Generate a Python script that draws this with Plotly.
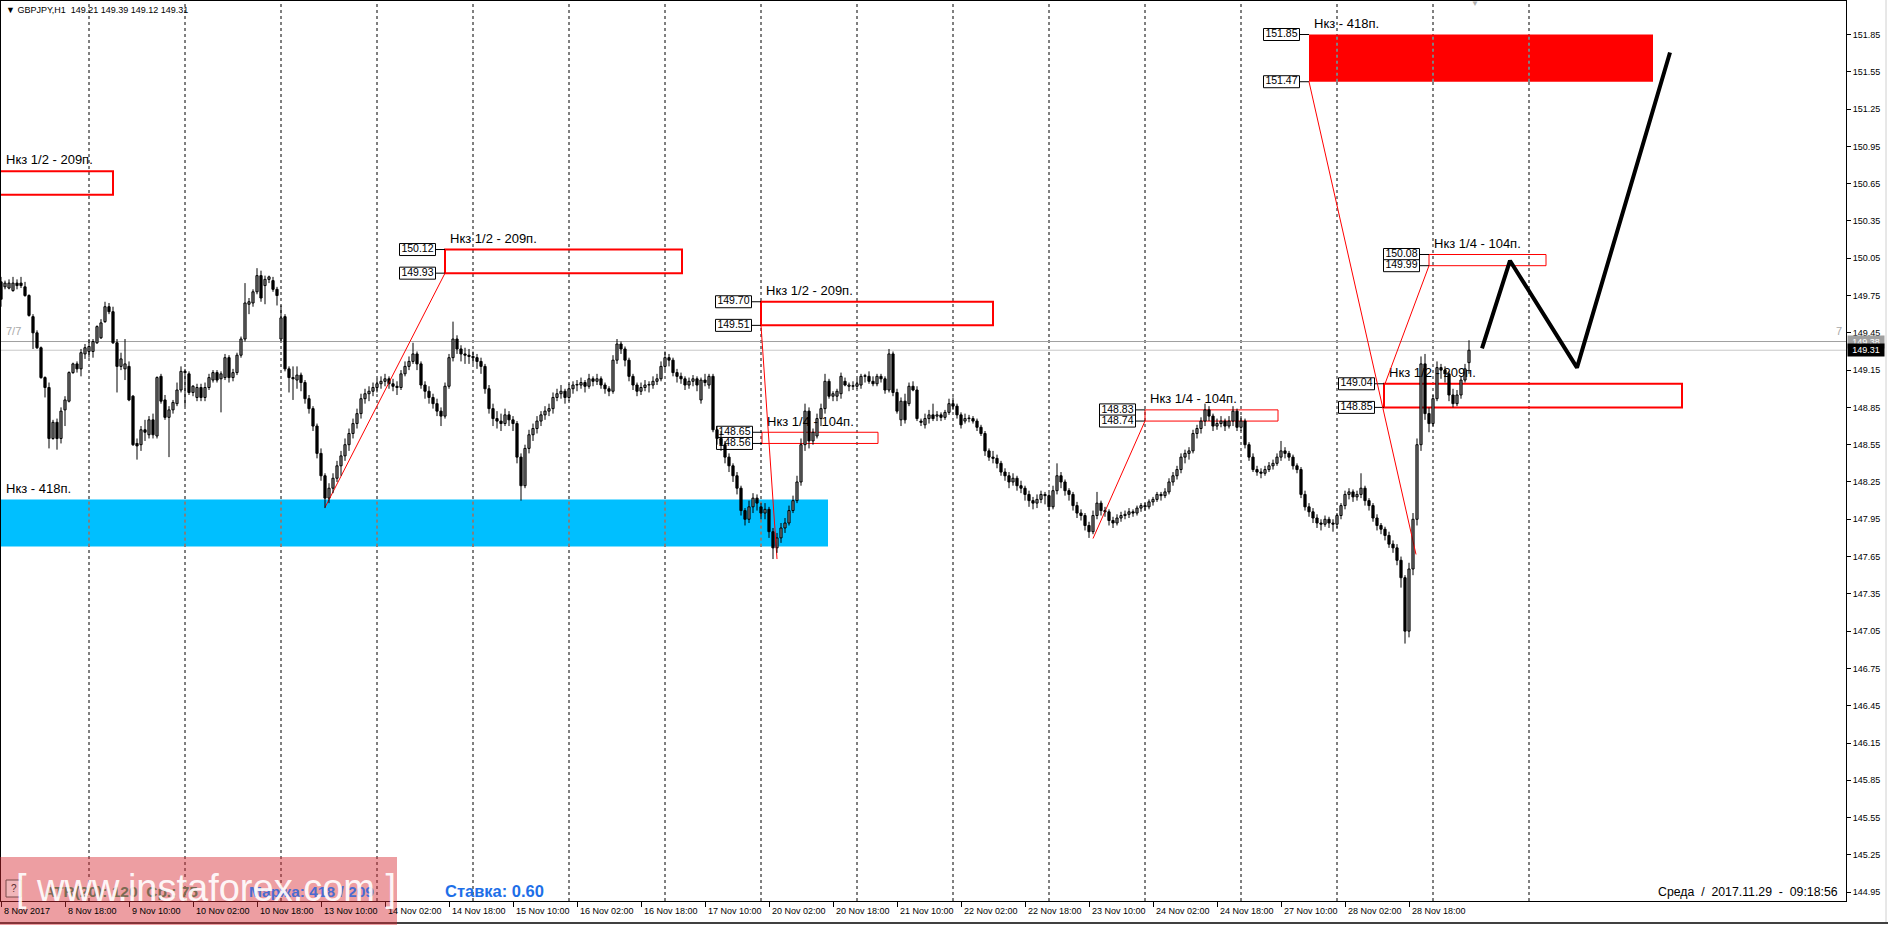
import plotly.graph_objects as go

# ---------------- candle data (open, high, low, close), hourly bars, grouped by trading day ----------------
nov08 = [  # 02:00 .. 23:00
    (149.86, 149.90, 149.66, 149.72), (149.82, 149.87, 149.80, 149.85), (149.81, 149.88, 149.80, 149.85),
    (149.79, 149.90, 149.78, 149.85), (149.85, 149.88, 149.80, 149.83), (149.85, 149.90, 149.81, 149.83),
    (149.82, 149.86, 149.74, 149.75), (149.75, 149.76, 149.58, 149.59), (149.58, 149.60, 149.32, 149.45),
    (149.45, 149.47, 149.32, 149.33), (149.33, 149.34, 149.08, 149.09), (149.09, 149.10, 148.93, 149.01),
    (149.01, 149.05, 148.52, 148.60), (148.60, 148.75, 148.59, 148.73), (148.73, 148.76, 148.51, 148.60),
    (148.60, 148.85, 148.56, 148.82), (148.83, 148.94, 148.70, 148.91), (148.90, 149.14, 148.89, 149.13),
    (149.13, 149.21, 149.12, 149.20), (149.20, 149.22, 149.13, 149.16), (149.16, 149.32, 149.10, 149.29),
    (149.28, 149.36, 149.24, 149.33)]
nov09 = [
    (149.30, 149.40, 149.25, 149.34), (149.30, 149.40, 149.25, 149.38), (149.37, 149.51, 149.36, 149.50),
    (149.41, 149.56, 149.40, 149.53), (149.54, 149.70, 149.53, 149.66), (149.66, 149.69, 149.60, 149.62),
    (149.62, 149.66, 149.36, 149.37), (149.37, 149.40, 148.97, 149.18), (149.18, 149.29, 149.15, 149.24),
    (149.16, 149.40, 149.07, 149.20), (149.18, 149.22, 148.90, 148.91), (148.94, 148.95, 148.54, 148.55),
    (148.56, 148.60, 148.43, 148.54), (148.55, 148.70, 148.50, 148.67), (148.67, 148.75, 148.58, 148.65),
    (148.63, 148.78, 148.60, 148.75), (148.75, 148.80, 148.60, 148.63), (148.62, 149.10, 148.60, 149.09),
    (149.10, 149.12, 148.88, 148.90), (148.91, 148.95, 148.75, 148.77), (148.77, 148.86, 148.45, 148.83),
    (148.83, 148.91, 148.80, 148.89), (148.88, 149.05, 148.86, 148.99), (148.99, 149.18, 148.97, 149.14)]
nov10 = [
    (149.14, 149.16, 148.86, 149.13), (149.12, 149.14, 148.95, 148.97), (148.97, 149.03, 148.94, 149.02),
    (148.93, 149.04, 148.90, 149.01), (149.01, 149.04, 148.90, 148.93), (148.93, 149.05, 148.90, 149.01),
    (149.01, 149.12, 148.99, 149.09), (149.07, 149.15, 149.05, 149.13), (149.13, 149.15, 149.05, 149.07),
    (149.08, 149.14, 148.81, 149.12), (149.09, 149.28, 149.07, 149.25), (149.25, 149.27, 149.05, 149.09),
    (149.09, 149.16, 149.06, 149.13), (149.13, 149.29, 149.11, 149.27), (149.27, 149.42, 149.25, 149.40),
    (149.40, 149.85, 149.38, 149.69), (149.68, 149.73, 149.60, 149.70), (149.69, 149.80, 149.66, 149.78),
    (149.78, 149.97, 149.76, 149.91), (149.91, 149.95, 149.70, 149.73), (149.83, 149.91, 149.68, 149.88),
    (149.88, 149.91, 149.85, 149.90), (149.87, 149.90, 149.78, 149.80), (149.80, 149.82, 149.67, 149.75)]
nov13 = [
    (149.40, 149.67, 149.38, 149.57), (149.58, 149.60, 149.14, 149.16), (149.16, 149.18, 148.97, 149.09),
    (149.09, 149.18, 148.91, 149.08), (149.07, 149.18, 149.00, 149.11), (149.11, 149.13, 148.98, 149.05),
    (149.05, 149.07, 148.88, 148.92), (148.92, 148.95, 148.80, 148.84), (148.84, 148.86, 148.66, 148.70),
    (148.70, 148.72, 148.44, 148.48), (148.48, 148.52, 148.26, 148.30), (148.30, 148.32, 148.04, 148.12),
    (148.12, 148.24, 148.08, 148.20), (148.20, 148.32, 148.16, 148.28), (148.28, 148.42, 148.25, 148.38),
    (148.38, 148.50, 148.30, 148.46), (148.46, 148.60, 148.42, 148.55), (148.55, 148.68, 148.50, 148.64),
    (148.64, 148.76, 148.60, 148.72), (148.72, 148.84, 148.68, 148.80), (148.80, 148.96, 148.76, 148.92),
    (148.92, 149.00, 148.88, 148.96), (148.96, 149.02, 148.90, 148.98), (148.98, 149.05, 148.94, 149.01)]
nov14 = [
    (149.01, 149.08, 148.97, 149.04), (149.04, 149.10, 149.00, 149.06), (149.06, 149.12, 149.02, 149.08),
    (149.08, 149.10, 149.00, 149.04), (149.04, 149.08, 148.98, 149.02), (149.02, 149.06, 148.95, 149.01),
    (149.01, 149.15, 148.99, 149.12), (149.12, 149.22, 149.10, 149.18), (149.18, 149.26, 149.15, 149.22),
    (149.22, 149.37, 149.20, 149.28), (149.28, 149.30, 149.15, 149.20), (149.20, 149.22, 149.00, 149.03),
    (149.03, 149.06, 148.92, 148.98), (148.98, 149.02, 148.88, 148.93), (148.93, 148.96, 148.84, 148.88),
    (148.88, 148.92, 148.78, 148.82), (148.82, 148.85, 148.70, 148.78), (148.78, 149.05, 148.76, 149.02),
    (149.02, 149.28, 149.00, 149.25), (149.25, 149.54, 149.22, 149.40), (149.40, 149.43, 149.28, 149.32),
    (149.32, 149.35, 149.22, 149.28), (149.28, 149.33, 149.20, 149.27), (149.27, 149.32, 149.20, 149.26)]
nov15 = [
    (149.26, 149.30, 149.20, 149.25), (149.25, 149.28, 149.16, 149.22), (149.22, 149.25, 149.12, 149.18),
    (149.18, 149.20, 148.96, 149.00), (149.00, 149.03, 148.80, 148.84), (148.84, 148.88, 148.70, 148.76),
    (148.76, 148.82, 148.68, 148.74), (148.74, 148.80, 148.66, 148.72), (148.72, 148.84, 148.70, 148.79),
    (148.79, 148.82, 148.70, 148.75), (148.75, 148.78, 148.66, 148.72), (148.72, 148.74, 148.40, 148.45),
    (148.45, 148.48, 148.10, 148.22), (148.22, 148.55, 148.20, 148.52), (148.52, 148.67, 148.48, 148.63),
    (148.63, 148.72, 148.58, 148.68), (148.68, 148.78, 148.64, 148.74), (148.74, 148.82, 148.70, 148.79),
    (148.79, 148.86, 148.75, 148.82), (148.82, 148.88, 148.78, 148.84), (148.84, 148.97, 148.80, 148.93),
    (148.93, 149.00, 148.90, 148.96), (148.96, 149.03, 148.92, 148.98), (148.98, 149.00, 148.88, 148.93)]
nov16 = [
    (148.93, 149.04, 148.90, 149.00), (149.00, 149.06, 148.96, 149.03), (149.03, 149.07, 148.98, 149.03),
    (149.03, 149.09, 149.00, 149.05), (149.05, 149.07, 148.97, 149.02), (149.02, 149.12, 149.00, 149.08),
    (149.08, 149.10, 149.02, 149.06), (149.06, 149.12, 149.03, 149.08), (149.08, 149.10, 149.00, 149.03),
    (149.03, 149.05, 148.96, 149.00), (149.00, 149.02, 148.94, 148.98), (148.98, 149.27, 148.96, 149.23),
    (149.23, 149.40, 149.20, 149.36), (149.36, 149.38, 149.28, 149.32), (149.32, 149.34, 149.18, 149.23),
    (149.23, 149.25, 149.06, 149.10), (149.10, 149.12, 148.99, 149.03), (149.03, 149.05, 148.94, 148.98),
    (148.98, 149.05, 148.95, 149.01), (149.01, 149.07, 148.98, 149.03), (149.03, 149.06, 148.97, 149.03),
    (149.03, 149.10, 149.00, 149.06), (149.06, 149.12, 149.03, 149.08), (149.08, 149.22, 149.06, 149.18)]
nov17 = [
    (149.18, 149.30, 149.15, 149.25), (149.25, 149.28, 149.18, 149.23), (149.23, 149.25, 149.10, 149.13),
    (149.13, 149.16, 149.05, 149.10), (149.10, 149.13, 149.04, 149.08), (149.08, 149.10, 148.99, 149.03),
    (149.03, 149.09, 149.00, 149.06), (149.06, 149.11, 149.02, 149.08), (149.08, 149.10, 148.98, 149.03),
    (148.91, 149.09, 148.88, 149.07), (149.07, 149.12, 149.02, 149.05), (149.03, 149.12, 149.00, 149.10),
    (149.10, 149.12, 148.65, 148.67), (148.67, 148.70, 148.55, 148.60), (148.60, 148.66, 148.50, 148.55),
    (148.55, 148.58, 148.40, 148.45), (148.45, 148.48, 148.33, 148.38), (148.38, 148.40, 148.25, 148.30),
    (148.30, 148.33, 148.15, 148.20), (148.20, 148.22, 147.98, 148.02), (148.02, 148.04, 147.90, 147.95),
    (147.95, 148.10, 147.92, 148.05), (148.05, 148.16, 148.00, 148.12), (148.12, 148.15, 148.02, 148.08)]
nov20 = [
    (148.05, 148.08, 147.95, 148.00), (148.00, 148.08, 147.95, 148.03), (148.03, 148.05, 147.80, 147.85),
    (147.85, 147.88, 147.63, 147.72), (147.72, 147.84, 147.68, 147.80), (147.80, 147.92, 147.76, 147.88),
    (147.88, 147.96, 147.84, 147.92), (147.92, 148.06, 147.90, 148.02), (148.02, 148.14, 148.00, 148.10),
    (148.10, 148.30, 148.08, 148.25), (148.25, 148.60, 148.22, 148.55), (148.55, 148.88, 148.50, 148.82),
    (148.82, 148.85, 148.52, 148.58), (148.58, 148.68, 148.55, 148.65), (148.62, 148.80, 148.60, 148.76),
    (148.76, 148.88, 148.70, 148.84), (148.84, 149.12, 148.80, 149.06), (149.06, 149.08, 148.92, 148.94),
    (148.94, 148.98, 148.90, 148.96), (148.94, 149.00, 148.90, 148.98), (148.96, 149.13, 148.92, 149.10),
    (149.06, 149.09, 149.02, 149.03), (149.02, 149.05, 148.98, 149.03), (149.02, 149.06, 148.99, 149.02)]
nov21 = [
    (149.02, 149.08, 149.00, 149.04), (149.03, 149.12, 149.00, 149.10), (149.10, 149.12, 149.05, 149.10),
    (149.10, 149.14, 149.04, 149.06), (149.06, 149.10, 149.02, 149.04), (149.04, 149.12, 149.02, 149.10),
    (149.10, 149.12, 149.05, 149.08), (149.08, 149.10, 148.96, 148.99), (148.99, 149.32, 148.97, 149.28),
    (149.28, 149.30, 148.94, 148.97), (148.97, 149.00, 148.80, 148.82), (148.75, 148.93, 148.70, 148.90),
    (148.90, 148.96, 148.72, 148.75), (148.88, 149.05, 148.86, 149.02), (149.02, 149.06, 148.98, 148.99),
    (148.99, 149.02, 148.74, 148.76), (148.74, 148.76, 148.70, 148.73), (148.71, 148.80, 148.68, 148.76),
    (148.76, 148.83, 148.72, 148.79), (148.79, 148.88, 148.74, 148.76), (148.78, 148.82, 148.74, 148.79),
    (148.79, 148.81, 148.74, 148.77), (148.77, 148.83, 148.75, 148.81), (148.81, 148.92, 148.79, 148.88)]
nov22 = [
    (148.88, 148.93, 148.83, 148.86), (148.86, 148.88, 148.76, 148.79), (148.79, 148.81, 148.68, 148.71),
    (148.74, 148.80, 148.72, 148.76), (148.76, 148.79, 148.73, 148.76), (148.76, 148.78, 148.72, 148.74),
    (148.74, 148.76, 148.66, 148.69), (148.69, 148.71, 148.62, 148.64), (148.64, 148.66, 148.46, 148.50),
    (148.50, 148.52, 148.42, 148.45), (148.45, 148.50, 148.40, 148.44), (148.44, 148.47, 148.36, 148.40),
    (148.40, 148.42, 148.30, 148.33), (148.33, 148.36, 148.26, 148.30), (148.30, 148.33, 148.20, 148.25),
    (148.25, 148.32, 148.22, 148.28), (148.28, 148.30, 148.18, 148.22), (148.22, 148.26, 148.16, 148.20),
    (148.20, 148.22, 148.10, 148.15), (148.15, 148.18, 148.05, 148.10), (148.10, 148.13, 148.03, 148.08),
    (148.08, 148.15, 148.04, 148.11), (148.11, 148.18, 148.08, 148.15), (148.15, 148.17, 148.07, 148.14)]
nov23 = [
    (148.14, 148.16, 148.02, 148.05), (148.05, 148.22, 148.03, 148.18), (148.18, 148.40, 148.15, 148.30),
    (148.30, 148.33, 148.20, 148.25), (148.25, 148.27, 148.14, 148.18), (148.18, 148.20, 148.10, 148.15),
    (148.15, 148.17, 148.02, 148.06), (148.06, 148.09, 147.96, 148.00), (148.00, 148.03, 147.94, 147.98),
    (147.98, 148.00, 147.86, 147.90), (147.90, 147.93, 147.80, 147.85), (147.85, 148.02, 147.83, 147.98),
    (147.98, 148.17, 147.95, 148.08), (148.08, 148.10, 147.98, 148.02), (148.02, 148.05, 147.97, 148.01),
    (148.01, 148.03, 147.90, 147.94), (147.94, 147.97, 147.88, 147.92), (147.92, 147.99, 147.90, 147.96),
    (147.96, 148.01, 147.93, 147.98), (147.98, 148.02, 147.95, 147.99), (147.99, 148.04, 147.96, 148.01),
    (148.01, 148.03, 147.97, 148.00), (148.00, 148.06, 147.98, 148.04), (148.04, 148.08, 148.01, 148.06)]
nov24 = [
    (148.06, 148.08, 148.02, 148.05), (148.05, 148.11, 148.03, 148.09), (148.09, 148.13, 148.06, 148.11),
    (148.11, 148.17, 148.09, 148.15), (148.15, 148.17, 148.10, 148.14), (148.14, 148.20, 148.12, 148.17),
    (148.17, 148.28, 148.15, 148.25), (148.25, 148.33, 148.22, 148.30), (148.30, 148.38, 148.27, 148.35),
    (148.35, 148.48, 148.32, 148.45), (148.45, 148.51, 148.40, 148.48), (148.48, 148.53, 148.43, 148.50),
    (148.50, 148.67, 148.48, 148.64), (148.64, 148.71, 148.60, 148.68), (148.68, 148.77, 148.64, 148.74),
    (148.74, 148.88, 148.70, 148.83), (148.83, 148.86, 148.74, 148.78), (148.78, 148.80, 148.66, 148.70),
    (148.70, 148.76, 148.67, 148.72), (148.72, 148.78, 148.69, 148.74), (148.74, 148.76, 148.66, 148.70),
    (148.70, 148.78, 148.68, 148.74), (148.74, 148.86, 148.70, 148.82), (148.82, 148.84, 148.66, 148.69)]
nov27 = [
    (148.69, 148.78, 148.66, 148.74), (148.74, 148.76, 148.52, 148.55), (148.55, 148.57, 148.42, 148.45),
    (148.45, 148.48, 148.33, 148.35), (148.35, 148.38, 148.30, 148.33), (148.33, 148.36, 148.28, 148.32),
    (148.32, 148.38, 148.30, 148.35), (148.35, 148.41, 148.33, 148.38), (148.38, 148.43, 148.35, 148.40),
    (148.40, 148.48, 148.38, 148.45), (148.45, 148.58, 148.42, 148.50), (148.50, 148.53, 148.44, 148.48),
    (148.48, 148.50, 148.42, 148.45), (148.45, 148.47, 148.35, 148.38), (148.38, 148.40, 148.32, 148.35),
    (148.35, 148.37, 148.12, 148.15), (148.15, 148.18, 148.02, 148.05), (148.05, 148.08, 147.97, 148.01),
    (148.01, 148.04, 147.92, 147.96), (147.96, 147.99, 147.88, 147.92), (147.92, 147.95, 147.86, 147.91),
    (147.91, 147.98, 147.89, 147.95), (147.95, 147.97, 147.88, 147.92), (147.92, 147.95, 147.85, 147.91)]
nov28 = [
    (147.91, 148.00, 147.88, 147.98), (147.98, 148.08, 147.95, 148.06), (148.06, 148.18, 148.03, 148.15),
    (148.15, 148.20, 148.11, 148.17), (148.17, 148.19, 148.09, 148.13), (148.13, 148.18, 148.10, 148.15),
    (148.15, 148.32, 148.12, 148.20), (148.20, 148.22, 148.06, 148.10), (148.10, 148.12, 148.02, 148.06),
    (148.06, 148.08, 147.93, 147.96), (147.96, 147.99, 147.86, 147.90), (147.90, 147.92, 147.83, 147.87),
    (147.87, 147.89, 147.78, 147.82), (147.82, 147.85, 147.72, 147.75), (147.75, 147.78, 147.68, 147.72),
    (147.72, 147.75, 147.58, 147.62), (147.62, 147.65, 147.40, 147.48), (147.48, 147.50, 146.95, 147.05),
    (147.05, 147.60, 147.00, 147.55), (147.55, 148.00, 147.50, 147.95), (147.95, 148.60, 147.90, 148.55),
    (148.55, 149.26, 148.50, 149.20), (149.20, 149.28, 148.75, 148.80), (148.80, 148.85, 148.65, 148.72)]
nov29 = [  # 00:00 .. 09:00
    (148.72, 148.95, 148.70, 148.92), (148.92, 149.22, 148.90, 149.17), (149.17, 149.20, 149.08, 149.15),
    (149.15, 149.18, 149.05, 149.12), (149.12, 149.14, 148.90, 148.95), (148.95, 149.00, 148.85, 148.88),
    (148.88, 148.99, 148.86, 148.95), (148.95, 149.10, 148.92, 149.07), (149.07, 149.20, 149.05, 149.16),
    (149.21, 149.39, 149.12, 149.31)]

trading_days = [nov08, nov09, nov10, nov13, nov14, nov15, nov16, nov17,
                nov20, nov21, nov22, nov23, nov24, nov27, nov28, nov29]
first_bar = -22  # 8 Nov 02:00, counted in bars from 9 Nov 00:00

time_tick_bars = [-22, -6, 10, 26, 42, 58, 74, 90, 106, 122, 138, 154,
                  170, 186, 202, 218, 234, 250, 266, 282, 298, 314, 330]
time_tick_text = ["8 Nov 2017", "8 Nov 18:00", "9 Nov 10:00", "10 Nov 02:00", "10 Nov 18:00",
                  "13 Nov 10:00", "14 Nov 02:00", "14 Nov 18:00", "15 Nov 10:00", "16 Nov 02:00",
                  "16 Nov 18:00", "17 Nov 10:00", "20 Nov 02:00", "20 Nov 18:00", "21 Nov 10:00",
                  "22 Nov 02:00", "22 Nov 18:00", "23 Nov 10:00", "24 Nov 02:00", "24 Nov 18:00",
                  "27 Nov 10:00", "28 Nov 02:00", "28 Nov 18:00"]
price_tick_values = [151.85, 151.55, 151.25, 150.95, 150.65, 150.35, 150.05, 149.75, 149.45, 149.15,
                     148.85, 148.55, 148.25, 147.95, 147.65, 147.35, 147.05, 146.75, 146.45, 146.15,
                     145.85, 145.55, 145.25, 144.95]

# target zones (bar index start/end, low/high price)
zone_start = [-30, -30, 89, 168, 168.25, 264, 305, 323.75, 335]
zone_end = [6, 184.75, 148.25, 226, 197.25, 297.25, 391, 398.25, 364.25]
zone_low = [150.56, 147.73, 149.93, 149.51, 148.56, 148.74, 151.47, 148.85, 149.99]
zone_high = [150.75, 148.11, 150.12, 149.70, 148.65, 148.83, 151.85, 149.04, 150.08]
zone_label = ["Нкз 1/2 - 209п.", "Нкз - 418п.", "Нкз 1/2 - 209п.", "Нкз 1/2 - 209п.", "Нкз 1/4 - 104п.",
              "Нкз 1/4 - 104п.", "Нкз - 418п.", "Нкз 1/2 - 209п.", "Нкз 1/4 - 104п."]
zone_kind = ["half", "buy", "half", "half", "quarter", "quarter", "sell", "half", "quarter"]
zone_price_tags = [False, False, True, True, True, True, True, True, True]

# red trend lines (bar, price) -> (bar, price)
trend_from_bar = [59, 168, 251, 305, 324]
trend_from_price = [148.045, 149.51, 147.795, 151.47, 149.04]
trend_to_bar = [89, 172, 264, 331.75, 335]
trend_to_price = [149.93, 147.63, 148.74, 147.667, 149.99]

# forecast path (thick black line)
forecast_bar = [348.25, 355.25, 372, 395.25]
forecast_price = [149.324, 150.03, 149.17, 151.705]

bid_price = 149.31
ask_price = 149.38
header_text = "GBPJPY,H1\u00a0\u00a0149.21 149.39 149.12 149.31"
clock_text = "Среда\u00a0\u00a0/\u00a0\u00a02017.11.29\u00a0\u00a0-\u00a0\u00a009:18:56"

# ---------------- flatten candles ----------------
bars, opens, highs, lows, closes = [], [], [], [], []
k = first_bar
for day in trading_days:
    for o, h, l, c in day:
        bars.append(k); opens.append(o); highs.append(h); lows.append(l); closes.append(c)
        k += 1

# ---------------- pixel calibration ----------------
W, H = 1888, 925
PLOT_L, PLOT_R, PLOT_T, PLOT_B = 1, 1846, 1, 901
BAR0_PX, PX_PER_BAR = 89.0, 4.0
P_REF, P_REF_PX, PX_PER_PRICE = 151.85, 34.5, 124.3


def bar_at(px):
    return (px - BAR0_PX) / PX_PER_BAR


def price_at(py):
    return P_REF - (py - P_REF_PX) / PX_PER_PRICE


def dbar(px):
    return px / PX_PER_BAR


def dprice(px):
    return px / PX_PER_PRICE


def paper_x(px):
    return (px - PLOT_L) / (PLOT_R - PLOT_L)


def paper_y(py):
    return (PLOT_B - py) / (PLOT_B - PLOT_T)


FONT = "Liberation Sans"
XMIN, XMAX = bar_at(PLOT_L), bar_at(PLOT_R)

fig = go.Figure()
shapes = []

# day separators (black dashed)
sep_bars = [24 * d for d in range(len(trading_days))]
for sb in sep_bars:
    shapes.append(dict(type="line", xref="x", yref="paper", x0=sb, x1=sb, y0=0, y1=1,
                       line=dict(color="black", width=1, dash="3px,3px"), layer="below"))

# filled zones + XOR-like separator colour on them
for x0, x1, lo, hi, kind in zip(zone_start, zone_end, zone_low, zone_high, zone_kind):
    if kind in ("buy", "sell"):
        fill = "#00BFFF" if kind == "buy" else "#FF0000"
        xor = "#FF4000" if kind == "buy" else "#00FFFF"
        shapes.append(dict(type="rect", xref="x", yref="y", x0=x0, x1=x1, y0=lo, y1=hi,
                           fillcolor=fill, line=dict(width=0), layer="below"))
        for sb in sep_bars:
            if x0 < sb < x1:
                shapes.append(dict(type="line", xref="x", yref="y", x0=sb, x1=sb, y0=lo, y1=hi,
                                   line=dict(color=xor, width=1, dash="3px,3px"), layer="below"))

# outlined zones
for x0, x1, lo, hi, kind in zip(zone_start, zone_end, zone_low, zone_high, zone_kind):
    if kind in ("half", "quarter"):
        shapes.append(dict(type="rect", xref="x", yref="y", x0=x0, x1=x1, y0=lo, y1=hi,
                           line=dict(color="#FF0000", width=2 if kind == "half" else 1), layer="below"))

# bid / ask lines
shapes.append(dict(type="line", xref="paper", yref="y", x0=0, x1=1, y0=ask_price, y1=ask_price,
                   line=dict(color="#A0A0A0", width=1), layer="below"))
shapes.append(dict(type="line", xref="paper", yref="y", x0=0, x1=1, y0=bid_price, y1=bid_price,
                   line=dict(color="#C8C8C8", width=1), layer="below"))

# price tags (boxes with values) at zone corners
tag_gap, tag_w, tag_h = 9.5, 36, 12
tag_x, tag_y, tag_t = [], [], []
for x0, lo, hi, tagged in zip(zone_start, zone_low, zone_high, zone_price_tags):
    if not tagged:
        continue
    right = x0 - dbar(tag_gap)
    for p in (hi, lo):
        shapes.append(dict(type="line", xref="x", yref="y", x0=right, x1=x0, y0=p, y1=p,
                           line=dict(color="black", width=1), layer="below"))
        shapes.append(dict(type="rect", xref="x", yref="y", x0=right - dbar(tag_w), x1=right,
                           y0=p - dprice(tag_h / 2), y1=p + dprice(tag_h / 2),
                           fillcolor="white", line=dict(color="black", width=1), layer="below"))
        tag_x.append(right - dbar(tag_w / 2)); tag_y.append(p); tag_t.append(f"{p:.2f}")

# window frame pieces outside the plot
shapes.append(dict(type="line", xref="paper", yref="paper", x0=paper_x(0), x1=paper_x(W),
                   y0=paper_y(923), y1=paper_y(923), line=dict(color="#404040", width=2), layer="above"))
shapes.append(dict(type="line", xref="paper", yref="paper", x0=paper_x(1886), x1=paper_x(1886),
                   y0=paper_y(0), y1=paper_y(922), line=dict(color="#D0D0D0", width=1), layer="above"))
# watermark panel (semi-transparent pink)
shapes.append(dict(type="rect", xref="paper", yref="paper", x0=paper_x(0), x1=paper_x(397),
                   y0=paper_y(925), y1=paper_y(857), fillcolor="rgba(214,40,48,0.45)",
                   line=dict(width=0), layer="above"))
# small "?" button
shapes.append(dict(type="rect", xref="paper", yref="paper", x0=paper_x(6), x1=paper_x(21),
                   y0=paper_y(897), y1=paper_y(880), fillcolor="rgba(255,255,255,0.25)",
                   line=dict(color="#7a4a4a", width=1), layer="above"))

# ---------------- traces (drawn behind candles first) ----------------
cap_x, cap_y = [], []
for x0, hi in zip(zone_start, zone_high):
    cap_x.append(max(x0, XMIN) + dbar(5)); cap_y.append(hi + dprice(10))
fig.add_trace(go.Scatter(x=cap_x, y=cap_y, text=zone_label, mode="text", textposition="middle right",
                         textfont=dict(family=FONT, size=13, color="black"), hoverinfo="skip"))
fig.add_trace(go.Scatter(x=tag_x, y=tag_y, text=tag_t, mode="text", textposition="middle center",
                         textfont=dict(family=FONT, size=10.5, color="black"), hoverinfo="skip"))
fig.add_trace(go.Scatter(x=[bar_at(6), bar_at(1836)], y=[price_at(332), price_at(332)], text=["7/7", "7"],
                         mode="text", textposition="middle right",
                         textfont=dict(family=FONT, size=11, color="#A8A8A8"), hoverinfo="skip"))

# red trend lines
tx, ty = [], []
for a, b, c, d in zip(trend_from_bar, trend_from_price, trend_to_bar, trend_to_price):
    tx += [a, c, None]; ty += [b, d, None]
fig.add_trace(go.Scatter(x=tx, y=ty, mode="lines", line=dict(color="#FF0000", width=1), hoverinfo="skip"))

# candles: wicks
wx, wy = [], []
for b, h, l in zip(bars, highs, lows):
    wx += [b, b, None]; wy += [l, h, None]
fig.add_trace(go.Scatter(x=wx, y=wy, mode="lines", line=dict(color="black", width=1), hoverinfo="skip"))

# candles: bodies
min_body = dprice(0.6)
for bull in (True, False):
    bx, base, size = [], [], []
    for b, o, c in zip(bars, opens, closes):
        if (c >= o) == bull:
            bx.append(b); base.append(min(o, c)); size.append(max(abs(c - o), min_body))
    fig.add_trace(go.Bar(x=bx, y=size, base=base, width=0.55,
                         marker=dict(color="white" if bull else "black", line=dict(color="black", width=1)),
                         hoverinfo="skip"))

# forecast path
fig.add_trace(go.Scatter(x=forecast_bar, y=forecast_price, mode="lines",
                         line=dict(color="black", width=4), hoverinfo="skip"))

# ---------------- annotations ----------------
AX = 9
ann = []
for b, t in zip(time_tick_bars, time_tick_text):
    ann.append(dict(x=b, y=0, xref="x", yref="paper", text=t, showarrow=False, xanchor="left",
                    yanchor="top", xshift=1, yshift=-3, font=dict(family=FONT, size=AX, color="black")))
ann.append(dict(x=paper_x(4), y=paper_y(10), xref="paper", yref="paper", text="▼ " + header_text,
                showarrow=False, xanchor="left", yanchor="middle", font=dict(family=FONT, size=AX, color="black")))
ann.append(dict(x=bar_at(1475), y=paper_y(4), xref="x", yref="paper", text="▼", showarrow=False,
                xanchor="center", yanchor="middle", font=dict(family=FONT, size=8, color="#B0B0B0")))
ann.append(dict(x=1, y=ask_price, xref="paper", yref="y", text=f"{ask_price:.2f}", showarrow=False,
                xanchor="left", yanchor="middle", xshift=1, bgcolor="#A0A0A0", borderpad=1, width=34,
                font=dict(family=FONT, size=AX, color="white")))
ann.append(dict(x=1, y=bid_price, xref="paper", yref="y", text=f"{bid_price:.2f}", showarrow=False,
                xanchor="left", yanchor="middle", xshift=1, bgcolor="black", borderpad=1, width=34,
                font=dict(family=FONT, size=AX, color="white")))
ann.append(dict(x=paper_x(1840), y=paper_y(892), xref="paper", yref="paper", text=clock_text,
                showarrow=False, xanchor="right", yanchor="middle", font=dict(family=FONT, size=12.3, color="black")))
ann.append(dict(x=paper_x(42), y=paper_y(891), xref="paper", yref="paper", text="<b>ATR(20): 120  Ср.: 75</b>",
                showarrow=False, xanchor="left", yanchor="middle", font=dict(family=FONT, size=15.5, color="#7B6A52")))
ann.append(dict(x=paper_x(247), y=paper_y(891), xref="paper", yref="paper", text="<b>Маржа: 418 / 209</b>",
                showarrow=False, xanchor="left", yanchor="middle", font=dict(family=FONT, size=15.5, color="#4A6BD0")))
ann.append(dict(x=paper_x(443), y=paper_y(891), xref="paper", yref="paper", text="<b>Ставка: 0.60</b>",
                showarrow=False, xanchor="left", yanchor="middle", font=dict(family=FONT, size=16.5, color="#1E6FE8")))
ann.append(dict(x=paper_x(13.5), y=paper_y(888.5), xref="paper", yref="paper", text="?",
                showarrow=False, xanchor="center", yanchor="middle", font=dict(family=FONT, size=10, color="#5a3030")))
ann.append(dict(x=paper_x(206), y=paper_y(888), xref="paper", yref="paper", text="[ www.instaforex.com ]",
                showarrow=False, xanchor="center", yanchor="middle",
                font=dict(family=FONT, size=38, color="rgba(255,255,255,0.92)")))

fig.update_layout(
    width=W, height=H,
    margin=dict(l=PLOT_L, r=W - PLOT_R, t=PLOT_T, b=H - PLOT_B, autoexpand=False),
    paper_bgcolor="white", plot_bgcolor="white", showlegend=False,
    barmode="overlay", hovermode=False,
    font=dict(family=FONT, size=AX, color="black"),
    xaxis=dict(range=[XMIN, XMAX], showgrid=False, zeroline=False, showline=True, linecolor="black",
               linewidth=1, mirror=True, ticks="outside", ticklen=5, tickcolor="black",
               tickvals=time_tick_bars, showticklabels=False, fixedrange=True),
    yaxis=dict(range=[price_at(PLOT_B), price_at(PLOT_T)], side="right", showgrid=False, zeroline=False,
               showline=True, linecolor="black", linewidth=1, mirror=True, ticks="outside", ticklen=4,
               tickcolor="black", tickvals=price_tick_values,
               ticktext=[f"{v:.2f}" for v in price_tick_values],
               tickfont=dict(family=FONT, size=AX, color="black"), fixedrange=True),
    shapes=shapes, annotations=ann,
)

fig.write_html("out.html", config={"displayModeBar": False},
               post_script="document.body.style.margin='0';document.body.style.overflow='hidden';")
